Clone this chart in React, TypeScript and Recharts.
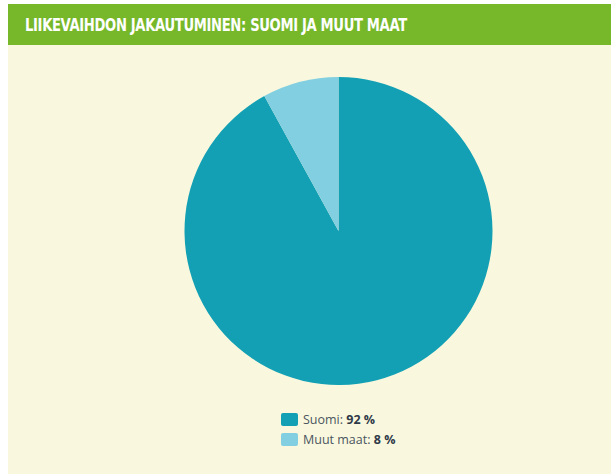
// Liikevaihdon jakautuminen: Suomi ja muut maat
// Pie with green header band and a small two-row legend below

import { PieChart, Pie, Cell, Legend } from 'recharts'

const categories = ['Suomi', 'Muut maat']
const shares = [92, 8]
const colors = ['#13a0b5', '#82cfe1']

const data = categories.map((name, i) => ({ name, value: shares[i] }))

// Legend rows: "Suomi: 92 %"
function LegendRows() {
  return (
    <div style={{ display: 'flex', flexDirection: 'column', alignItems: 'flex-start', gap: 4 }}>
      {data.map((d, i) => (
        <div key={d.name} style={{ display: 'flex', alignItems: 'center', height: 16 }}>
          <span
            style={{
              display: 'inline-block',
              width: 17,
              height: 13,
              background: colors[i],
              borderRadius: 2,
              marginRight: 5,
            }}
          />
          <span style={{ fontSize: 12.5, color: '#4a5560' }}>
            {d.name}: <b style={{ color: '#2f3a48' }}>{d.value} %</b>
          </span>
        </div>
      ))}
    </div>
  )
}

export default function App() {
  return (
    <div
      style={{
        position: 'absolute',
        left: 8,
        top: 4,
        width: 603,
        height: 470,
        background: '#f9f8de',
        fontFamily: '"Open Sans", "DejaVu Sans", sans-serif',
      }}
    >
      <div
        style={{
          height: 41,
          background: '#76b82a',
          display: 'flex',
          alignItems: 'center',
          paddingLeft: 17,
        }}
      >
        <span
          style={{
            color: '#ffffff',
            fontFamily: '"DejaVu Sans Condensed", "Liberation Sans Narrow", sans-serif',
            fontWeight: 'bold',
            fontSize: 17,
            letterSpacing: -0.4,
            display: 'inline-block',
            transform: 'scaleX(0.86)',
            transformOrigin: 'left center',
            whiteSpace: 'nowrap',
          }}
        >
          LIIKEVAIHDON JAKAUTUMINEN: SUOMI JA MUUT MAAT
        </span>
      </div>
      <PieChart width={603} height={429} margin={{ top: 0, right: 0, bottom: 0, left: 0 }}>
        <Pie
          data={data}
          dataKey="value"
          nameKey="name"
          cx={330.5}
          cy={186}
          outerRadius={154}
          startAngle={90}
          endAngle={-270}
          stroke="none"
          isAnimationActive={false}
        >
          {data.map((d, i) => (
            <Cell key={d.name} fill={colors[i]} />
          ))}
        </Pie>
        <Legend
          content={<LegendRows />}
          verticalAlign="bottom"
          align="left"
          wrapperStyle={{ top: 366, left: 273, width: 200 }}
        />
      </PieChart>
    </div>
  )
}
